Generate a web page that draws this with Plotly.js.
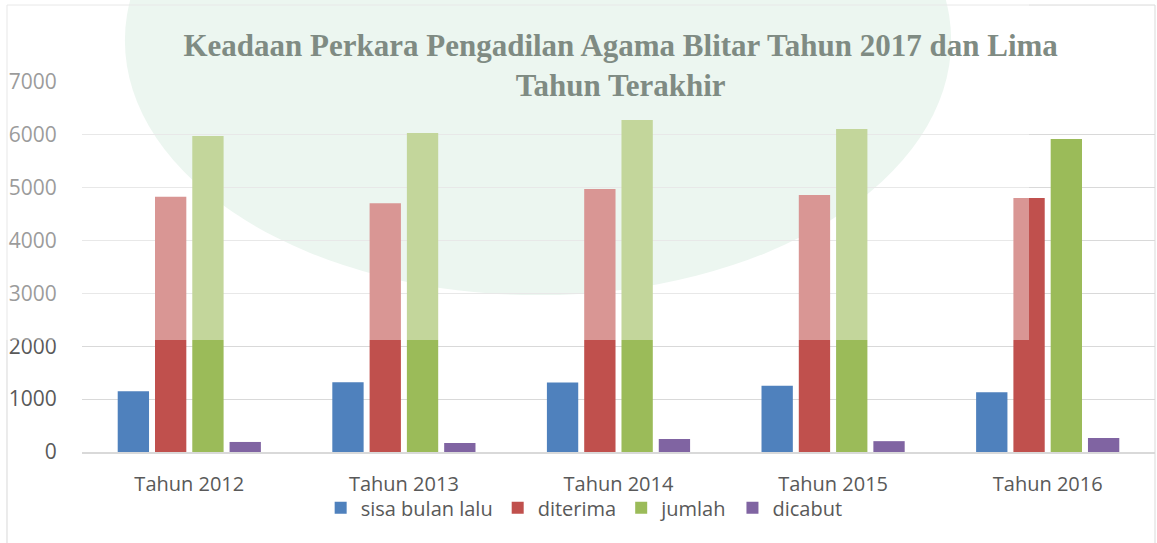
<!DOCTYPE html>
<html>
<head>
<meta charset="utf-8">
<script src="https://cdn.plot.ly/plotly-3.0.1.min.js"></script>
<style>html,body{margin:0;padding:0;background:#fff;}#chart{width:1157px;height:543px;}</style>
</head>
<body>
<div id="chart"></div>
<script>
var categories = ["Tahun 2012", "Tahun 2013", "Tahun 2014", "Tahun 2015", "Tahun 2016"];
var sisaBulanLalu = [1150, 1320, 1315, 1255, 1130];
var diterima = [4830, 4705, 4975, 4860, 4805];
var jumlah = [5980, 6035, 6280, 6110, 5920];
var dicabut = [190, 170, 245, 205, 265];
var yTicks = [0, 1000, 2000, 3000, 4000, 5000, 6000, 7000];
var yMax = 7000;

var fontFam = "'Open Sans', 'Noto Sans', sans-serif";
function bar(name, y, color) {
  return {type: 'bar', name: name, x: categories, y: y,
    marker: {color: color, line: {width: 0}}, hoverinfo: 'skip'};
}
var data = [
  bar('sisa bulan lalu', sisaBulanLalu, '#4F81BD'),
  bar('diterima', diterima, '#C0504D'),
  bar('jumlah', jumlah, '#9BBB59'),
  bar('dicabut', dicabut, '#8064A2')
];

var layout = {
  width: 1157, height: 543,
  margin: {l: 82, r: 2, t: 82, b: 91},
  paper_bgcolor: '#ffffff', plot_bgcolor: 'rgba(0,0,0,0)',
  barmode: 'group', bargap: 0.305, bargroupgap: 0.16,
  showlegend: true,
  title: {
    text: '<b>Keadaan Perkara Pengadilan Agama Blitar Tahun 2017 dan Lima<br>Tahun Terakhir</b>',
    font: {family: "'Liberation Serif', 'Times New Roman', serif", size: 31, color: '#7f8b83'},
    x: 0.502, xanchor: 'center', xref: 'paper',
    y: 0.897, yanchor: 'top', yref: 'container'
  },
  xaxis: {
    type: 'category', showgrid: false, zeroline: false,
    showline: true, linecolor: '#D9D9D9', linewidth: 1.5,
    ticks: 'outside', ticklen: 13, tickcolor: 'rgba(0,0,0,0)',
    tickfont: {family: fontFam, size: 20, color: '#595959'}
  },
  yaxis: {
    range: [0, yMax], tickvals: yTicks, ticktext: yTicks.map(String),
    showgrid: true, gridcolor: '#D9D9D9', gridwidth: 1,
    zeroline: false, showline: false,
    ticks: 'outside', ticklen: 20, tickcolor: 'rgba(0,0,0,0)',
    tickfont: {family: fontFam, size: 21, color: '#595959'}
  },
  legend: {
    orientation: 'h', x: 0.468, xanchor: 'center', y: -0.151, yanchor: 'middle',
    font: {family: fontFam, size: 20, color: '#595959'},
    itemwidth: 30, traceorder: 'normal', bgcolor: 'rgba(0,0,0,0)'
  },
  shapes: [
    {type: 'circle', xref: 'paper', yref: 'paper', x0: 0.04, x1: 0.81, y0: 0.424, y1: 1.8,
     line: {width: 0}, fillcolor: '#DFF0E6', layer: 'below'},
    {type: 'rect', xref: 'paper', yref: 'paper', x0: -0.0699, x1: 1.0, y0: -0.6, y1: 1.208,
     line: {color: '#D9D9D9', width: 1}, fillcolor: 'rgba(0,0,0,0)', layer: 'below'},
    {type: 'rect', xref: 'paper', yref: 'paper', x0: -0.08, x1: 0.8826, y0: 2120 / yMax, y1: 1.3,
     line: {width: 0}, fillcolor: 'rgba(255,255,255,0.4)', layer: 'above'}
  ]
};

Plotly.newPlot('chart', data, layout, {displayModeBar: false, staticPlot: true});
</script>
</body>
</html>
